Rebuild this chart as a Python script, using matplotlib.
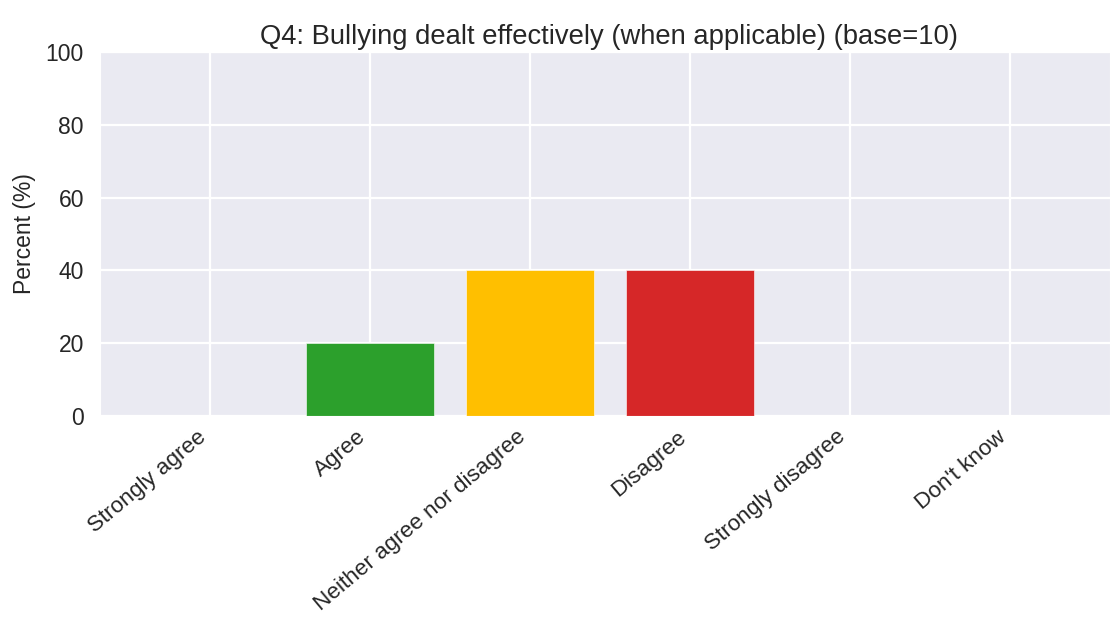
import matplotlib
matplotlib.use("Agg")
import matplotlib.pyplot as plt
import seaborn as sns

# Response categories and percentages
categories = ["Strongly agree", "Agree", "Neither agree nor disagree",
              "Disagree", "Strongly disagree", "Don't know"]
percents = [0, 20, 40, 40, 0, 0]
bar_colors = ["#1a7f37", "#2ca02c", "#ffbf00", "#d62728", "#8b0000", "#7f7f7f"]

sns.set_style("darkgrid")
plt.rcParams['font.family'] = ['Liberation Sans', 'DejaVu Sans']

fig, ax = plt.subplots(figsize=(11.1, 6.19), dpi=100)
fig.subplots_adjust(left=0.09, right=1.0, top=0.916, bottom=0.328)

x = list(range(len(categories)))
ax.bar(x, percents, color=bar_colors, width=0.8, edgecolor='white', linewidth=0.4)
ax.set_xticks(x)
ax.set_xticklabels(categories, rotation=40, ha='right', fontsize=16.2)
ax.set_xlim(-0.69, 5.625)
ax.set_ylim(0, 100)
ax.grid(True, linewidth=1.6, color='white')
ax.tick_params(axis='y', labelsize=16.5, pad=8)
ax.tick_params(axis='x', pad=4)
ax.set_ylabel("Percent (%)", fontsize=16.5, labelpad=7)
ax.set_title("Q4: Bullying dealt effectively (when applicable) (base=10)",
             fontsize=19.7, x=0.504)

fig.savefig("out.png", dpi=100)
